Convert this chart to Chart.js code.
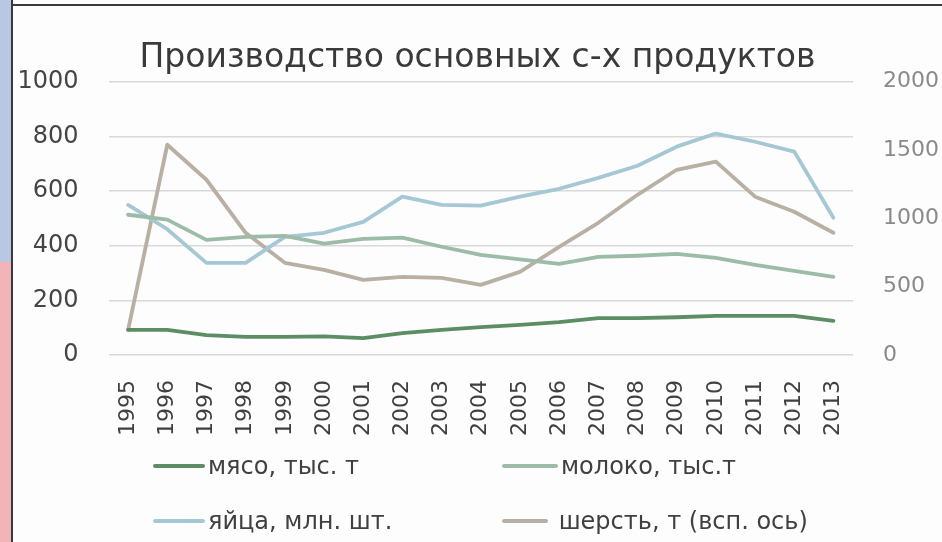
<!DOCTYPE html>
<html>
<head>
<meta charset="utf-8">
<script src="https://cdn.jsdelivr.net/npm/chart.js@4"></script>
<style>
  html, body { margin: 0; padding: 0; width: 942px; height: 542px; overflow: hidden; background: #fdfdfd; }
  #stripTop { position: absolute; left: 0; top: 0; width: 11px; height: 262px; background: #b8c8e4; }
  #stripBot { position: absolute; left: 0; top: 262px; width: 11px; height: 280px; background: #f2b4b8; }
  #vline { position: absolute; left: 11px; top: 0; width: 2px; height: 542px; background: #3a3a3a; }
  #hline { position: absolute; left: 11px; top: 4px; width: 931px; height: 2px; background: #3a3a3a; }
  #wrap { position: absolute; left: 13px; top: 7px; width: 929px; height: 535px; }
  .leg { position: absolute; font-family: "DejaVu Sans", sans-serif; font-size: 24px; color: #404040; white-space: pre; line-height: 28px; }
  .leg i { position: absolute; top: 12px; height: 4px; border-radius: 2px; }
</style>
</head>
<body>
<div id="stripTop"></div><div id="stripBot"></div>
<div id="vline"></div><div id="hline"></div>
<div id="wrap"><canvas id="c"></canvas></div>
<div id="legend"></div>
<script>
// Производство основных с-х продуктов, 1995-2013
var years = ["1995","1996","1997","1998","1999","2000","2001","2002","2003","2004",
             "2005","2006","2007","2008","2009","2010","2011","2012","2013"];
var meat  = [92, 92, 73, 66, 66, 68, 62, 80, 92, 102, 110, 120, 135, 135, 138, 143, 143, 143, 125];
var milk  = [513, 495, 421, 432, 436, 407, 425, 429, 396, 366, 350, 333, 359, 363, 370, 355, 330, 308, 286];
var eggs  = [549, 460, 337, 337, 432, 447, 487, 579, 549, 546, 579, 608, 648, 692, 762, 810, 780, 744, 502];
var wool  = [183, 1538, 1282, 894, 674, 623, 549, 571, 564, 513, 608, 791, 967, 1172, 1355, 1414, 1158, 1048, 894];
var leftTicks = [0, 200, 400, 600, 800, 1000];
var rightTicks = [0, 500, 1000, 1500, 2000];

var FONT = '"DejaVu Sans", sans-serif';
// leg: [left, top, line length] of the legend entry, in page pixels
var series = [
  { label: "мясо, тыс. т",          data: meat, color: "#5d8d65", axis: "y",  leg: [153, 452, 52] },
  { label: "молоко, тыс.т",         data: milk, color: "#9dbca8", axis: "y",  leg: [502, 452, 56] },
  { label: "яйца, млн. шт.",        data: eggs, color: "#a6c8d5", axis: "y",  leg: [153, 507, 52] },
  { label: " шерсть, т (всп. ось)", data: wool, color: "#b9b0a3", axis: "y2", leg: [502, 507, 46] }
];

function plain(v) { return String(v); }

var chart = new Chart(document.getElementById("c"), {
  type: "line",
  data: {
    labels: years,
    datasets: series.map(function (s) {
      return { label: s.label, data: s.data, borderColor: s.color, backgroundColor: s.color,
               yAxisID: s.axis, borderWidth: 3.8, pointRadius: 0, tension: 0,
               borderCapStyle: "round", borderJoinStyle: "round" };
    })
  },
  options: {
    responsive: true, maintainAspectRatio: false, animation: false,
    layout: { padding: { left: 0, right: 0, top: 0, bottom: 87 } },
    plugins: {
      legend: { display: false },
      tooltip: { enabled: false },
      title: { display: true, text: "Производство основных с-х продуктов", color: "#3a3a3a",
               font: { family: FONT, size: 33, weight: "normal" }, padding: { top: 32, bottom: 3 } }
    },
    scales: {
      x: {
        offset: true,
        grid: { display: false, drawTicks: false },
        border: { display: false },
        ticks: { autoSkip: false, minRotation: 90, maxRotation: 90, padding: 25, color: "#404040",
                 font: { family: FONT, size: 22 } },
        afterFit: function (s) { s.height = 100; }
      },
      y: {
        position: "left", min: 0, max: 1000,
        afterBuildTicks: function (s) { s.ticks = leftTicks.map(function (v) { return { value: v }; }); },
        grid: { color: "#d9d9d9", lineWidth: 1.5, drawTicks: false },
        border: { display: false },
        ticks: { padding: 30, color: "#454545", callback: plain, font: { family: FONT, size: 24 } },
        afterFit: function (s) { s.width = 95.5; }
      },
      y2: {
        position: "right", min: 0, max: 2000,
        afterBuildTicks: function (s) { s.ticks = rightTicks.map(function (v) { return { value: v }; }); },
        grid: { display: false, drawTicks: false },
        border: { display: false },
        ticks: { padding: 30, color: "#8a8a8a", callback: plain, font: { family: FONT, size: 22 } },
        afterFit: function (s) { s.width = 89; }
      }
    }
  }
});

// legend in two columns, as in the original
var host = document.getElementById("legend");
series.forEach(function (s) {
  var d = document.createElement("div");
  d.className = "leg";
  d.style.left = s.leg[0] + "px";
  d.style.top = s.leg[1] + "px";
  d.style.paddingLeft = (s.leg[2] + 3) + "px";
  d.textContent = s.label;
  var line = document.createElement("i");
  line.style.left = "0px";
  line.style.width = s.leg[2] + "px";
  line.style.background = s.color;
  d.appendChild(line);
  host.appendChild(d);
});
</script>
</body>
</html>
